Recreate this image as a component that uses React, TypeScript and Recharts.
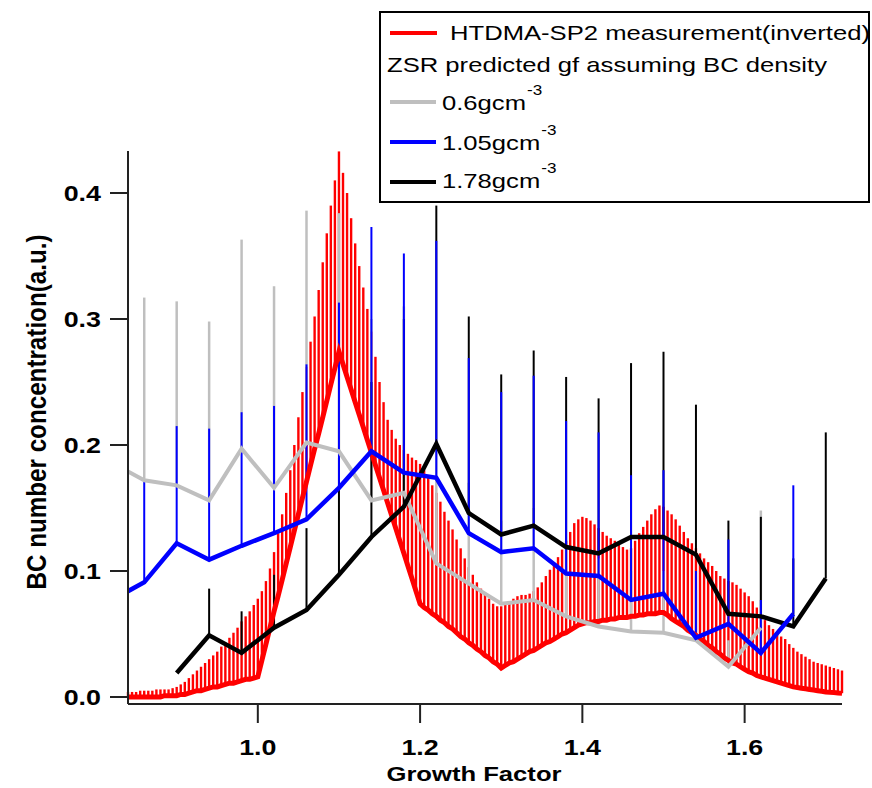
import React from 'react';
import { ComposedChart, Line, XAxis, YAxis, ErrorBar } from 'recharts';

// HTDMA-SP2 measurement (inverted): growth factor grid, line value and top of each red bar
const redGf = [
  0.84, 0.845, 0.85, 0.855, 0.86, 0.865, 0.87, 0.875, 0.88, 0.885,
  0.89, 0.895, 0.9, 0.905, 0.91, 0.915, 0.92, 0.925, 0.93, 0.935,
  0.94, 0.945, 0.95, 0.955, 0.96, 0.965, 0.97, 0.975, 0.98, 0.985,
  0.99, 0.995, 1.0, 1.005, 1.01, 1.015, 1.02, 1.025, 1.03, 1.035,
  1.04, 1.045, 1.05, 1.055, 1.06, 1.065, 1.07, 1.075, 1.08, 1.085,
  1.09, 1.095, 1.1, 1.105, 1.11, 1.115, 1.12, 1.125, 1.13, 1.135,
  1.14, 1.145, 1.15, 1.155, 1.16, 1.165, 1.17, 1.175, 1.18, 1.185,
  1.19, 1.195, 1.2, 1.205, 1.21, 1.215, 1.22, 1.225, 1.23, 1.235,
  1.24, 1.245, 1.25, 1.255, 1.26, 1.265, 1.27, 1.275, 1.28, 1.285,
  1.29, 1.295, 1.3, 1.305, 1.31, 1.315, 1.32, 1.325, 1.33, 1.335,
  1.34, 1.345, 1.35, 1.355, 1.36, 1.365, 1.37, 1.375, 1.38, 1.385,
  1.39, 1.395, 1.4, 1.405, 1.41, 1.415, 1.42, 1.425, 1.43, 1.435,
  1.44, 1.445, 1.45, 1.455, 1.46, 1.465, 1.47, 1.475, 1.48, 1.485,
  1.49, 1.495, 1.5, 1.505, 1.51, 1.515, 1.52, 1.525, 1.53, 1.535,
  1.54, 1.545, 1.55, 1.555, 1.56, 1.565, 1.57, 1.575, 1.58, 1.585,
  1.59, 1.595, 1.6, 1.605, 1.61, 1.615, 1.62, 1.625, 1.63, 1.635,
  1.64, 1.645, 1.65, 1.655, 1.66, 1.665, 1.67, 1.675, 1.68, 1.685,
  1.69, 1.695, 1.7, 1.705, 1.71, 1.715, 1.72,
];
const redValue = [
  0, 0, 0, 0, 0, 0, 0, 0, 0, 0.001,
  0.001, 0.001, 0.001, 0.002, 0.002, 0.003, 0.004, 0.005, 0.005, 0.006,
  0.007, 0.008, 0.008, 0.009, 0.01, 0.011, 0.011, 0.012, 0.013, 0.014,
  0.014, 0.015, 0.016, 0.029, 0.042, 0.055, 0.068, 0.08, 0.093, 0.106,
  0.119, 0.132, 0.145, 0.158, 0.171, 0.184, 0.197, 0.209, 0.222, 0.235,
  0.248, 0.261, 0.274, 0.264, 0.254, 0.244, 0.234, 0.224, 0.214, 0.204,
  0.194, 0.184, 0.174, 0.164, 0.154, 0.144, 0.134, 0.124, 0.114, 0.104,
  0.094, 0.084, 0.074, 0.071, 0.069, 0.066, 0.064, 0.061, 0.059, 0.056,
  0.054, 0.051, 0.048, 0.046, 0.043, 0.041, 0.038, 0.036, 0.033, 0.031,
  0.028, 0.026, 0.023, 0.025, 0.027, 0.028, 0.03, 0.032, 0.034, 0.036,
  0.037, 0.039, 0.041, 0.043, 0.044, 0.046, 0.048, 0.05, 0.051, 0.053,
  0.055, 0.057, 0.058, 0.059, 0.059, 0.06, 0.06, 0.061, 0.061, 0.062,
  0.062, 0.063, 0.063, 0.063, 0.064, 0.064, 0.065, 0.065, 0.066, 0.066,
  0.066, 0.067, 0.067, 0.065, 0.062, 0.06, 0.058, 0.056, 0.053, 0.051,
  0.049, 0.046, 0.044, 0.041, 0.039, 0.036, 0.034, 0.031, 0.029, 0.027,
  0.026, 0.024, 0.022, 0.02, 0.019, 0.017, 0.016, 0.015, 0.014, 0.013,
  0.012, 0.011, 0.01, 0.009, 0.008, 0.0075, 0.007, 0.0065, 0.006, 0.0055,
  0.005, 0.0045, 0.004, 0.0037, 0.0035, 0.0032, 0.003,
];
const redUpper = [
  0.004, 0.004, 0.004, 0.005, 0.005, 0.005, 0.005, 0.006, 0.006, 0.006,
  0.006, 0.007, 0.008, 0.01, 0.012, 0.015, 0.018, 0.021, 0.024, 0.027,
  0.03, 0.033, 0.036, 0.04, 0.043, 0.047, 0.051, 0.055, 0.06, 0.064,
  0.068, 0.073, 0.078, 0.084, 0.092, 0.102, 0.115, 0.13, 0.145, 0.162,
  0.18, 0.2, 0.222, 0.242, 0.262, 0.282, 0.302, 0.323, 0.345, 0.368,
  0.39, 0.41, 0.433, 0.416, 0.4, 0.38, 0.36, 0.342, 0.325, 0.308,
  0.29, 0.27, 0.25, 0.234, 0.22, 0.212, 0.205, 0.2, 0.196, 0.193,
  0.19, 0.188, 0.185, 0.18, 0.174, 0.168, 0.162, 0.155, 0.147, 0.14,
  0.133, 0.125, 0.118, 0.11, 0.103, 0.097, 0.091, 0.086, 0.082, 0.078,
  0.074, 0.072, 0.072, 0.074, 0.076, 0.078, 0.08, 0.081, 0.081, 0.082,
  0.084, 0.087, 0.091, 0.096, 0.101, 0.106, 0.111, 0.117, 0.124, 0.131,
  0.138, 0.141, 0.143, 0.142, 0.14, 0.137, 0.134, 0.131, 0.128, 0.126,
  0.124, 0.121, 0.119, 0.117, 0.118, 0.124, 0.13, 0.135, 0.14, 0.145,
  0.149, 0.152, 0.151, 0.148, 0.145, 0.141, 0.136, 0.131, 0.126, 0.122,
  0.118, 0.114, 0.11, 0.107, 0.104, 0.1, 0.096, 0.094, 0.092, 0.091,
  0.089, 0.086, 0.083, 0.08, 0.076, 0.071, 0.066, 0.061, 0.057, 0.054,
  0.051, 0.048, 0.046, 0.042, 0.039, 0.036, 0.034, 0.032, 0.03, 0.028,
  0.027, 0.026, 0.025, 0.024, 0.023, 0.022, 0.021,
];

// ZSR predicted gf, BC density 0.6 gcm-3
const grayGf = [0.84, 0.86, 0.9, 0.94, 0.98, 1.02, 1.06, 1.1, 1.14, 1.18, 1.22, 1.26, 1.3, 1.34, 1.38, 1.42, 1.46, 1.5, 1.54, 1.58, 1.62];
const grayValue = [0.179, 0.172, 0.168, 0.156, 0.197, 0.166, 0.202, 0.195, 0.156, 0.162, 0.106, 0.09, 0.074, 0.077, 0.064, 0.056, 0.052, 0.051, 0.045, 0.024, 0.055];
const grayUpper = [0.179, 0.317, 0.314, 0.298, 0.363, 0.326, 0.386, 0.384, 0.3, 0.31, 0.2, 0.17, 0.14, 0.15, 0.12, 0.11, 0.1, 0.1, 0.085, 0.045, 0.148];

// 1.05 gcm-3
const blueGf = [0.84, 0.86, 0.9, 0.94, 0.98, 1.02, 1.06, 1.1, 1.14, 1.18, 1.22, 1.26, 1.3, 1.34, 1.38, 1.42, 1.46, 1.5, 1.54, 1.58, 1.62, 1.66];
const blueValue = [0.084, 0.091, 0.122, 0.109, 0.12, 0.13, 0.141, 0.166, 0.195, 0.178, 0.174, 0.13, 0.115, 0.118, 0.098, 0.096, 0.077, 0.082, 0.047, 0.058, 0.035, 0.066];
const blueUpper = [0.084, 0.172, 0.215, 0.213, 0.226, 0.231, 0.264, 0.313, 0.373, 0.352, 0.362, 0.269, 0.242, 0.255, 0.219, 0.21, 0.176, 0.18, 0.1, 0.125, 0.077, 0.168];

// 1.78 gcm-3
const blackGf = [0.9, 0.94, 0.98, 1.02, 1.06, 1.1, 1.14, 1.18, 1.22, 1.26, 1.3, 1.34, 1.38, 1.42, 1.46, 1.5, 1.54, 1.58, 1.62, 1.66, 1.7];
const blackValue = [0.019, 0.049, 0.035, 0.055, 0.069, 0.097, 0.127, 0.151, 0.201, 0.146, 0.129, 0.136, 0.119, 0.114, 0.127, 0.127, 0.113, 0.066, 0.064, 0.056, 0.094];
const blackUpper = [0.019, 0.086, 0.068, 0.097, 0.134, 0.19, 0.25, 0.3, 0.39, 0.302, 0.256, 0.275, 0.254, 0.237, 0.265, 0.274, 0.232, 0.14, 0.143, 0.11, 0.21];

const xTicks = [1.0, 1.2, 1.4, 1.6];
const yTicks = [0, 0.1, 0.2, 0.3, 0.4];

const RED = '#ff0000';
const GRAY = '#bfbfbf';
const BLUE = '#0000ff';
const BLACK = '#000000';
const FONT = '"Liberation Sans", Arial, sans-serif';
const STRETCH = 1.22; // the original figure is widened horizontally

const rows = (xs: number[], vs: number[], ups: number[]) =>
  xs.map((x, i) => ({ x, v: vs[i], err: [0, Math.max(0, ups[i] - vs[i])] }));

const redData = rows(redGf, redValue, redUpper);
const grayData = rows(grayGf, grayValue, grayUpper);
const blueData = rows(blueGf, blueValue, blueUpper);
const blackData = rows(blackGf, blackValue, blackUpper);

let ctx: CanvasRenderingContext2D | null = null;
function textWidth(t: string, size: number, weight: string) {
  if (!ctx) ctx = document.createElement('canvas').getContext('2d');
  if (!ctx) return t.length * size * 0.55;
  ctx.font = `${weight} ${size}px "Liberation Sans", Arial`;
  return ctx.measureText(t).width;
}

function WideText({ x, y, text, size = 21, weight = 'normal', anchor = 'start', length }: any) {
  const w = length ?? textWidth(text, size, weight) * STRETCH;
  const x0 = anchor === 'end' ? x - w : anchor === 'middle' ? x - w / 2 : x;
  return (
    <text x={x0} y={y} fontFamily={FONT} fontSize={size} fontWeight={weight} fill="#000"
      textLength={w} lengthAdjust="spacingAndGlyphs">
      {text}
    </text>
  );
}

const XTick = (p: any) => (
  <WideText x={p.x} y={755} text={Number(p.payload.value).toFixed(1)} size={22} weight="bold" anchor="middle" />
);
const YTick = (p: any) => (
  <WideText x={p.x - 7} y={p.y + 8} text={Number(p.payload.value).toFixed(1)} size={22} weight="bold" anchor="end" />
);

function Legend() {
  const rowsL = [
    { c: GRAY, t: '0.6gcm', y: 110, ly: 102 },
    { c: BLUE, t: '1.05gcm', y: 150, ly: 142 },
    { c: BLACK, t: '1.78gcm', y: 188, ly: 182 },
  ];
  return (
    <g>
      <rect x={380} y={12} width={489} height={190} fill="#fff" stroke="#000" strokeWidth={2} />
      <line x1={390} x2={437} y1={33} y2={33} stroke={RED} strokeWidth={4} />
      <WideText x={450} y={40} text="HTDMA-SP2 measurement(inverted)" />
      <WideText x={387} y={72} text="ZSR predicted gf assuming BC density" />
      {rowsL.map((r) => {
        const w = textWidth(r.t, 21, 'normal') * STRETCH;
        return (
          <g key={r.t}>
            <line x1={390} x2={436} y1={r.ly} y2={r.ly} stroke={r.c} strokeWidth={4} />
            <WideText x={442} y={r.y} text={r.t} />
            <WideText x={442 + w + 1} y={r.y - 15} text="-3" size={14} />
          </g>
        );
      })}
    </g>
  );
}

export default function App() {
  return (
    <div style={{ position: 'absolute', left: 0, top: 0, width: 872, height: 788, background: '#fff' }}>
      <ComposedChart width={872} height={788} margin={{ top: 151, right: 30, bottom: 0, left: 0 }}>
        <XAxis
          type="number"
          dataKey="x"
          domain={[0.84, 1.72]}
          ticks={xTicks}
          allowDataOverflow
          height={84}
          tickSize={19}
          tick={XTick}
          axisLine={{ stroke: '#222', strokeWidth: 2 }}
          tickLine={{ stroke: '#222', strokeWidth: 2 }}
        />
        <YAxis
          type="number"
          domain={[-0.00556, 0.43333]}
          ticks={yTicks}
          allowDataOverflow
          width={128}
          tickSize={18}
          tick={YTick}
          axisLine={{ stroke: '#222', strokeWidth: 2 }}
          tickLine={{ stroke: '#222', strokeWidth: 2 }}
        />
        <Line data={redData} dataKey="v" stroke="none" dot={false} activeDot={false} isAnimationActive={false}>
          <ErrorBar dataKey="err" width={0} stroke={RED} strokeWidth={2.4} />
        </Line>
        <Line data={grayData} dataKey="v" stroke="none" dot={false} activeDot={false} isAnimationActive={false}>
          <ErrorBar dataKey="err" width={0} stroke={GRAY} strokeWidth={2.5} />
        </Line>
        <Line data={blackData} dataKey="v" stroke="none" dot={false} activeDot={false} isAnimationActive={false}>
          <ErrorBar dataKey="err" width={0} stroke={BLACK} strokeWidth={2} />
        </Line>
        <Line data={blueData} dataKey="v" stroke="none" dot={false} activeDot={false} isAnimationActive={false}>
          <ErrorBar dataKey="err" width={0} stroke={BLUE} strokeWidth={2} />
        </Line>
        <Line data={redData} dataKey="v" type="linear" stroke={RED} strokeWidth={5} dot={false} activeDot={false} isAnimationActive={false} />
        <Line data={grayData} dataKey="v" type="linear" stroke={GRAY} strokeWidth={4} dot={false} activeDot={false} isAnimationActive={false} />
        <Line data={blackData} dataKey="v" type="linear" stroke={BLACK} strokeWidth={4.5} dot={false} activeDot={false} isAnimationActive={false} />
        <Line data={blueData} dataKey="v" type="linear" stroke={BLUE} strokeWidth={4.5} dot={false} activeDot={false} isAnimationActive={false} />
      </ComposedChart>
      <svg width={872} height={788} style={{ position: 'absolute', left: 0, top: 0, pointerEvents: 'none' }}>
        <WideText x={474} y={781} text="Growth Factor" weight="bold" anchor="middle" />
        <g transform="translate(36 412) scale(1.22 1) rotate(-90)">
          <WideText x={0} y={8} text="BC number concentration(a.u.)" weight="bold" size={23} anchor="middle" length={355} />
        </g>
        <Legend />
      </svg>
    </div>
  );
}
